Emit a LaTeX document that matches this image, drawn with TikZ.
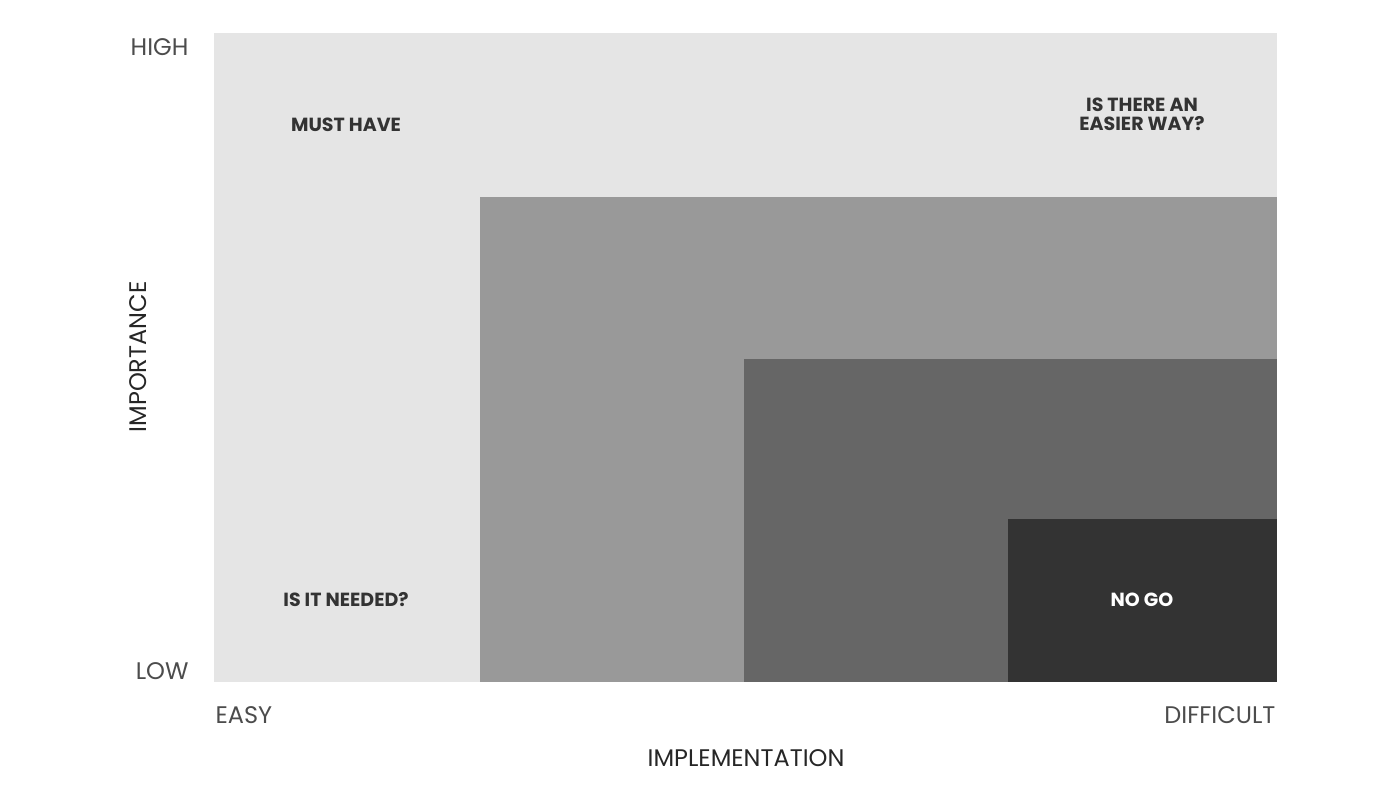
\documentclass[tikz,border=0pt]{standalone}
\usepackage{fontspec}
\setmainfont{Poppins}
\begin{document}
\begin{tikzpicture}[x=1pt,y=-1pt,
  ax/.style={text=black!70,font=\fontsize{24}{28}\selectfont},
  lb/.style={font=\fontsize{19}{22}\selectfont\bfseries,align=center}]
\useasboundingbox (0,0) rectangle (1400,800);
\fill[fill={rgb,255:red,229;green,229;blue,229}] (214,33) rectangle (1277,682);
\fill[fill={rgb,255:red,153;green,153;blue,153}] (480,197) rectangle (1277,682);
\fill[fill={rgb,255:red,102;green,102;blue,102}] (744,359) rectangle (1277,682);
\fill[fill={rgb,255:red,51;green,51;blue,51}] (1008,519) rectangle (1277,682);
\node[ax,anchor=east] (high) at (192,47) {HIGH};
\node[ax,anchor=east] (low) at (192,671) {LOW};
\node[ax,anchor=west] (easy) at (212,715) {EASY};
\node[ax,anchor=east] (diff) at (1279,715) {DIFFICULT};
\node[ax,text=black!85] (impl) at (746,758) {IMPLEMENTATION};
\node[ax,text=black!85,rotate=90] (imp) at (138,357) {IMPORTANCE};
\node[lb,text=black!80] (must) at (346,125) {MUST HAVE};
\node[lb,text=black!80] (easier) at (1142,114) {IS THERE AN\\[-3pt]EASIER WAY?};
\node[lb,text=black!80] (needed) at (346,600) {IS IT NEEDED?};
\node[lb,text=white] (nogo) at (1142,600) {NO GO};
\end{tikzpicture}
\end{document}
